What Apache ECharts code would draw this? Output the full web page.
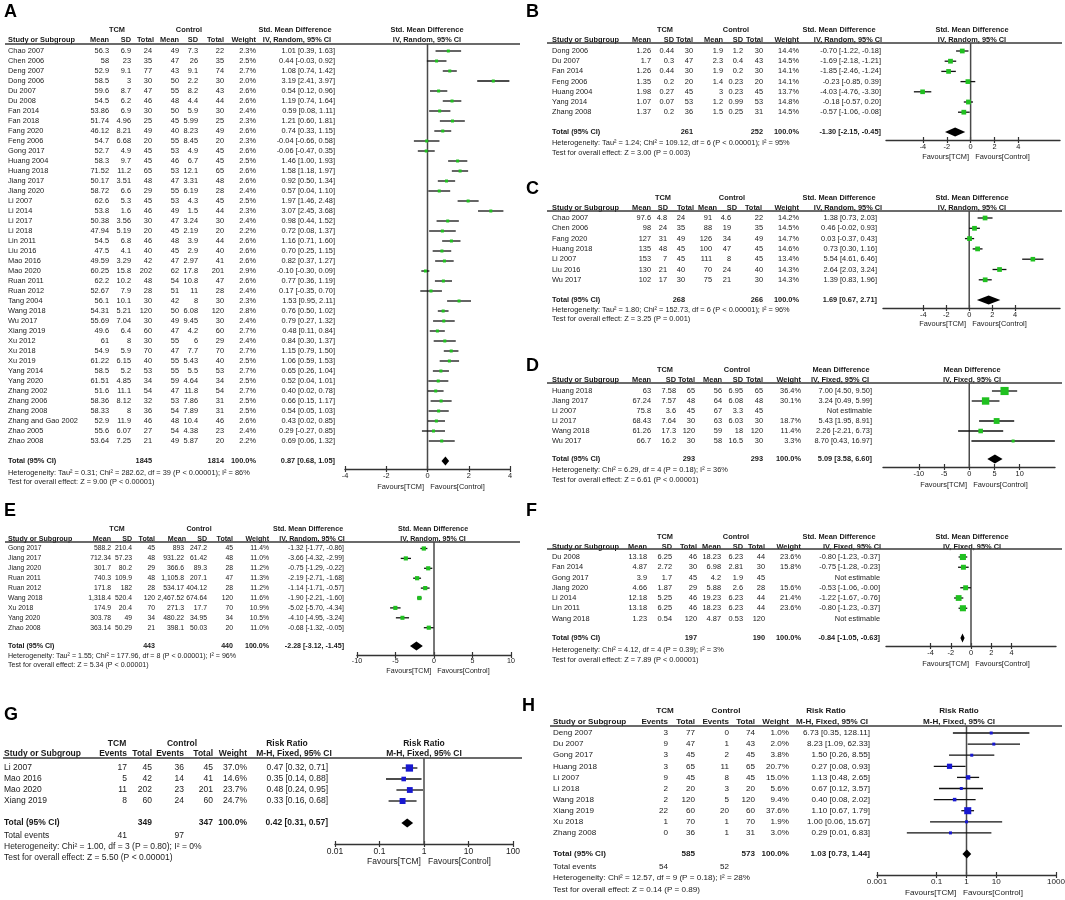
<!DOCTYPE html>
<html lang="en">
<head>
<meta charset="UTF-8">
<title>Forest plots A-H</title>
<style>html,body{margin:0;padding:0;background:#fff}</style>
</head>
<body>
<div id="chart" style="width:1065px;height:900px"></div>
<script src="https://cdn.jsdelivr.net/npm/echarts@6.0.0/dist/echarts.min.js"></script>
<script>
// ---------- A: Std. Mean Difference, IV, Random ----------
var A_study = ['Chao 2007','Chen 2006','Deng 2007','Dong 2006','Du 2007','Du 2008','Fan 2014','Fan 2018','Fang 2020','Feng 2006',
  'Gong 2017','Huang 2004','Huang 2018','Jiang 2017','Jiang 2020','Li 2007','Li 2014','Li 2017','Li 2018','Lin 2011',
  'Liu 2016','Mao 2016','Mao 2020','Ruan 2011','Ruan 2012','Tang 2004','Wang 2018','Wu 2017','Xiang 2019','Xu 2012',
  'Xu 2018','Xu 2019','Yang 2014','Yang 2020','Zhang 2002','Zhang 2006','Zhang 2008','Zhang and Gao 2002','Zhao 2005','Zhao 2008'];
var A_tcm = [[56.3,6.9,24],[58,23,35],[52.9,9.1,77],[58.5,3,30],[59.6,8.7,47],[54.5,6.2,46],[53.86,6.9,30],[51.74,4.96,25],[46.12,8.21,49],[54.7,6.68,20],
  [52.7,4.9,45],[58.3,9.7,45],[71.52,11.2,65],[50.17,3.51,48],[58.72,6.6,29],[62.6,5.3,45],[53.8,1.6,46],[50.38,3.56,30],[47.94,5.19,20],[54.5,6.8,46],
  [47.5,4.1,40],[49.59,3.29,42],[60.25,15.8,202],[62.2,10.2,48],[52.67,7.9,28],[56.1,10.1,30],[54.31,5.21,120],[55.69,7.04,30],[49.6,6.4,60],[61,8,30],
  [54.9,5.9,70],[61.22,6.15,40],[58.5,5.2,53],[61.51,4.85,34],[51.6,11.1,54],[58.36,8.12,32],[58.33,8,36],[52.9,11.9,46],[55.6,6.07,27],[53.64,7.25,21]];
var A_ctl = [[49,7.3,22],[47,26,35],[43,9.1,74],[50,2.2,30],[55,8.2,43],[48,4.4,44],[50,5.9,30],[45,5.99,25],[40,8.23,49],[55,8.45,20],
  [53,4.9,45],[46,6.7,45],[53,12.1,65],[47,3.31,48],[55,6.19,28],[53,4.3,45],[49,1.5,44],[47,3.24,30],[45,2.19,20],[48,3.9,44],
  [45,2.9,40],[47,2.97,41],[62,17.8,201],[54,10.8,47],[51,11,28],[42,8,30],[50,6.08,120],[49,9.45,30],[47,4.2,60],[55,6,29],
  [47,7.7,70],[55,5.43,40],[55,5.5,53],[59,4.64,34],[47,11.8,54],[53,7.86,31],[54,7.89,31],[48,10.4,46],[54,4.38,23],[49,5.87,20]];
var A_weight = [2.3,2.5,2.7,2.0,2.6,2.6,2.4,2.3,2.6,2.3,2.6,2.5,2.6,2.6,2.4,2.5,2.3,2.4,2.2,2.6,
  2.6,2.6,2.9,2.6,2.4,2.3,2.8,2.4,2.7,2.4,2.7,2.5,2.7,2.5,2.7,2.5,2.5,2.6,2.4,2.2];
var A_effect = [[1.01,0.39,1.63],[0.44,-0.03,0.92],[1.08,0.74,1.42],[3.19,2.41,3.97],[0.54,0.12,0.96],[1.19,0.74,1.64],[0.59,0.08,1.11],[1.21,0.60,1.81],[0.74,0.33,1.15],[-0.04,-0.66,0.58],
  [-0.06,-0.47,0.35],[1.46,1.00,1.93],[1.58,1.18,1.97],[0.92,0.50,1.34],[0.57,0.04,1.10],[1.97,1.46,2.48],[3.07,2.45,3.68],[0.98,0.44,1.52],[0.72,0.08,1.37],[1.16,0.71,1.60],
  [0.70,0.25,1.15],[0.82,0.37,1.27],[-0.10,-0.30,0.09],[0.77,0.36,1.19],[0.17,-0.35,0.70],[1.53,0.95,2.11],[0.76,0.50,1.02],[0.79,0.27,1.32],[0.48,0.11,0.84],[0.84,0.30,1.37],
  [1.15,0.79,1.50],[1.06,0.59,1.53],[0.65,0.26,1.04],[0.52,0.04,1.01],[0.40,0.02,0.78],[0.66,0.15,1.17],[0.54,0.05,1.03],[0.43,0.02,0.85],[0.29,-0.27,0.85],[0.69,0.06,1.32]];
var A_total = [1845, 1814, 0.87, 0.68, 1.05];
var A_het = 'Heterogeneity: Tau² = 0.31; Chi² = 282.62, df = 39 (P < 0.00001); I² = 86%';
var A_test = 'Test for overall effect: Z = 9.00 (P < 0.00001)';

// ---------- B ----------
var B_study = ['Dong 2006','Du 2007','Fan 2014','Feng 2006','Huang 2004','Yang 2014','Zhang 2008'];
var B_tcm = [[1.26,0.44,30],[1.7,0.3,47],[1.26,0.44,30],[1.35,0.2,20],[1.98,0.27,45],[1.07,0.07,53],[1.37,0.2,36]];
var B_ctl = [[1.9,1.2,30],[2.3,0.4,43],[1.9,0.2,30],[1.4,0.23,20],[3,0.23,45],[1.2,0.99,53],[1.5,0.25,31]];
var B_weight = [14.4,14.5,14.1,14.1,13.7,14.8,14.5];
var B_effect = [[-0.70,-1.22,-0.18],[-1.69,-2.18,-1.21],[-1.85,-2.46,-1.24],[-0.23,-0.85,0.39],[-4.03,-4.76,-3.30],[-0.18,-0.57,0.20],[-0.57,-1.06,-0.08]];
var B_total = [261, 252, -1.30, -2.15, -0.45];
var B_het = 'Heterogeneity: Tau² = 1.24; Chi² = 109.12, df = 6 (P < 0.00001); I² = 95%';
var B_test = 'Test for overall effect: Z = 3.00 (P = 0.003)';

// ---------- C ----------
var C_study = ['Chao 2007','Chen 2006','Fang 2020','Huang 2018','Li 2007','Liu 2016','Wu 2017'];
var C_tcm = [[97.6,4.8,24],[98,24,35],[127,31,49],[135,48,45],[153,7,45],[130,21,40],[102,17,30]];
var C_ctl = [[91,4.6,22],[88,19,35],[126,34,49],[100,47,45],[111,8,45],[70,24,40],[75,21,30]];
var C_weight = [14.2,14.5,14.7,14.6,13.4,14.3,14.3];
var C_effect = [[1.38,0.73,2.03],[0.46,-0.02,0.93],[0.03,-0.37,0.43],[0.73,0.30,1.16],[5.54,4.61,6.46],[2.64,2.03,3.24],[1.39,0.83,1.96]];
var C_total = [268, 266, 1.69, 0.67, 2.71];
var C_het = 'Heterogeneity: Tau² = 1.80; Chi² = 152.73, df = 6 (P < 0.00001); I² = 96%';
var C_test = 'Test for overall effect: Z = 3.25 (P = 0.001)';

// ---------- D: Mean Difference, IV, Fixed ----------
var D_study = ['Huang 2018','Jiang 2017','Li 2007','Li 2017','Wang 2018','Wu 2017'];
var D_tcm = [[63,7.58,65],[67.24,7.57,48],[75.8,3.6,45],[68.43,7.64,30],[61.26,17.3,120],[66.7,16.2,30]];
var D_ctl = [[56,6.95,65],[64,6.08,48],[67,3.3,45],[63,6.03,30],[59,18,120],[58,16.5,30]];
var D_weight = [36.4,30.1,null,18.7,11.4,3.3];
var D_effect = [[7.00,4.50,9.50],[3.24,0.49,5.99],null,[5.43,1.95,8.91],[2.26,-2.21,6.73],[8.70,0.43,16.97]];
var D_total = [293, 293, 5.09, 3.58, 6.60];
var D_het = 'Heterogeneity: Chi² = 6.29, df = 4 (P = 0.18); I² = 36%';
var D_test = 'Test for overall effect: Z = 6.61 (P < 0.00001)';

// ---------- E ----------
var E_study = ['Gong 2017','Jiang 2017','Jiang 2020','Ruan 2011','Ruan 2012','Wang 2018','Xu 2018','Yang 2020','Zhao 2008'];
var E_tcm = [[588.2,210.4,45],[712.34,57.23,48],[301.7,80.2,29],[740.3,109.9,48],[171.8,182,28],[1318.4,520.4,120],[174.9,20.4,70],[303.78,49,34],[363.14,50.29,21]];
var E_ctl = [[893,247.2,45],[931.22,61.42,48],[366.6,89.3,28],[1105.8,207.1,47],[534.17,404.12,28],[2467.52,674.64,120],[271.3,17.7,70],[480.22,34.95,34],[398.1,50.03,20]];
var E_weight = [11.4,11.0,11.2,11.3,11.2,11.6,10.9,10.5,11.0];
var E_effect = [[-1.32,-1.77,-0.86],[-3.66,-4.32,-2.99],[-0.75,-1.29,-0.22],[-2.19,-2.71,-1.68],[-1.14,-1.71,-0.57],[-1.90,-2.21,-1.60],[-5.02,-5.70,-4.34],[-4.10,-4.95,-3.24],[-0.68,-1.32,-0.05]];
var E_total = [443, 440, -2.28, -3.12, -1.45];
var E_het = 'Heterogeneity: Tau² = 1.55; Chi² = 177.96, df = 8 (P < 0.00001); I² = 96%';
var E_test = 'Test for overall effect: Z = 5.34 (P < 0.00001)';

// ---------- F: Std. Mean Difference, IV, Fixed ----------
var F_study = ['Du 2008','Fan 2014','Gong 2017','Jiang 2020','Li 2014','Lin 2011','Wang 2018'];
var F_tcm = [[13.18,6.25,46],[4.87,2.72,30],[3.9,1.7,45],[4.66,1.87,29],[12.18,5.25,46],[13.18,6.25,46],[1.23,0.54,120]];
var F_ctl = [[18.23,6.23,44],[6.98,2.81,30],[4.2,1.9,45],[5.88,2.6,28],[19.23,6.23,44],[18.23,6.23,44],[4.87,0.53,120]];
var F_weight = [23.6,15.8,null,15.6,21.4,23.6,null];
var F_effect = [[-0.80,-1.23,-0.37],[-0.75,-1.28,-0.23],null,[-0.53,-1.06,-0.003],[-1.22,-1.67,-0.76],[-0.80,-1.23,-0.37],null];
var F_total = [197, 190, -0.84, -1.05, -0.63];
var F_het = 'Heterogeneity: Chi² = 4.12, df = 4 (P = 0.39); I² = 3%';
var F_test = 'Test for overall effect: Z = 7.89 (P < 0.00001)';

// ---------- G: Risk Ratio, M-H, Fixed ----------
var G_study = ['Li 2007','Mao 2016','Mao 2020','Xiang 2019'];
var G_tcm = [[17,45],[5,42],[11,202],[8,60]];
var G_ctl = [[36,45],[14,41],[23,201],[24,60]];
var G_weight = [37.0,14.6,23.7,24.7];
var G_effect = [[0.47,0.32,0.71],[0.35,0.14,0.88],[0.48,0.24,0.95],[0.33,0.16,0.68]];
var G_total = [349, 347, 0.42, 0.31, 0.57];
var G_events = [41, 97];
var G_het = 'Heterogeneity: Chi² = 1.00, df = 3 (P = 0.80); I² = 0%';
var G_test = 'Test for overall effect: Z = 5.50 (P < 0.00001)';

// ---------- H ----------
var H_study = ['Deng 2007','Du 2007','Gong 2017','Huang 2018','Li 2007','Li 2018','Wang 2018','Xiang 2019','Xu 2018','Zhang 2008'];
var H_tcm = [[3,77],[9,47],[3,45],[3,65],[9,45],[2,20],[2,120],[22,60],[1,70],[0,36]];
var H_ctl = [[0,74],[1,43],[2,45],[11,65],[8,45],[3,20],[5,120],[20,60],[1,70],[1,31]];
var H_weight = [1.0,2.0,3.8,20.7,15.0,5.6,9.4,37.6,1.9,3.0];
var H_effect = [[6.73,0.35,128.11],[8.23,1.09,62.33],[1.50,0.26,8.55],[0.27,0.08,0.93],[1.13,0.48,2.65],[0.67,0.12,3.57],[0.40,0.08,2.02],[1.10,0.67,1.79],[1.00,0.06,15.67],[0.29,0.01,6.83]];
var H_total = [585, 573, 1.03, 0.73, 1.44];
var H_events = [54, 52];
var H_het = 'Heterogeneity: Chi² = 12.57, df = 9 (P = 0.18); I² = 28%';
var H_test = 'Test for overall effect: Z = 0.14 (P = 0.89)';

var smdTicks = [-4, -2, 0, 2, 4];
var mdTicks = [-10, -5, 0, 5, 10];
var gTicks = [0.01, 0.1, 1, 10, 100];
var hTicks = [0.001, 0.1, 1, 10, 1000];

var FONT = '"Liberation Sans", Arial, sans-serif';
var GREEN = '#20c020', BLUE = '#1818d0';
var CONT_HEAD = ['Mean','SD','Total','Mean','SD','Total','Weight'];
var DICH_HEAD = ['Events','Total','Events','Total','Weight'];

// layout of each panel (pixel positions only)
var panels = [
  {letter:['A',4,3], kind:'cont', fs:7.4, sqK:1.25, color:GREEN, effName:'Std. Mean Difference', method:'IV, Random, 95% CI',
   study:A_study, g1:A_tcm, g2:A_ctl, weight:A_weight, effect:A_effect, total:A_total, het:A_het, test:A_test,
   nameX:8, cols:[109,131,152,179,198,224,256], hcols:[109,131,154,179,198,224,256], ciX:335, ciHeadX:297, h1x:[117,189,295], line:[5,520],
   y:{h1:30, h2:40, line:44, row0:51, rowH:10, total:461, het:473, test:482, fav:487},
   plot:{px0:345, px1:510, min:-4, max:4, ticks:smdTicks, zero:0, axisY:469, cx:427, favX:431}},
  {letter:['B',526,3], kind:'cont', fs:7.4, sqK:1.25, color:GREEN, effName:'Std. Mean Difference', method:'IV, Random, 95% CI',
   study:B_study, g1:B_tcm, g2:B_ctl, weight:B_weight, effect:B_effect, total:B_total, het:B_het, test:B_test,
   nameX:552, cols:[651,674,693,723,743,763,799], ciX:881, ciHeadX:848, h1x:[665,736,839], line:[547,1062],
   y:{h1:30, h2:40, line:43, row0:51, rowH:10.2, total:132, het:143, test:153, fav:157},
   plot:{px0:886, px1:1060, min:-7.1, max:7.5, ticks:smdTicks, zero:0, axisY:140, cx:972, favX:976}},
  {letter:['C',526,180], kind:'cont', fs:7.4, sqK:1.25, color:GREEN, effName:'Std. Mean Difference', method:'IV, Random, 95% CI',
   study:C_study, g1:C_tcm, g2:C_ctl, weight:C_weight, effect:C_effect, total:C_total, het:C_het, test:C_test,
   nameX:552, cols:[651,667,685,712,731,763,799], hcols:[651,668,694,717,737,762,799], ciX:877, ciHeadX:848, h1x:[663,732,839], line:[547,1062],
   y:{h1:198, h2:208, line:211, row0:218, rowH:10.3, total:300, het:310, test:319, fav:324},
   plot:{px0:883, px1:1060, min:-7.5, max:7.9, ticks:smdTicks, zero:0, axisY:308, cx:972, favX:973}},
  {letter:['D',526,357], kind:'cont', fs:7.4, sqK:1.35, color:GREEN, effName:'Mean Difference', method:'IV, Fixed, 95% CI',
   study:D_study, g1:D_tcm, g2:D_ctl, weight:D_weight, effect:D_effect, total:D_total, het:D_het, test:D_test,
   nameX:552, cols:[651,676,695,722,743,763,801], ciX:872, ciHeadX:840, h1x:[665,737,841], line:[547,1062],
   y:{h1:370, h2:380, line:383, row0:391, rowH:10, total:459, het:470, test:480, fav:485},
   plot:{px0:883, px1:1055, min:-17.1, max:17, ticks:mdTicks, zero:0, axisY:467, cx:972, favX:974}},
  {letter:['E',4,502], kind:'cont', fs:7.1, rfs:6.8, sqK:1.25, color:GREEN, effName:'Std. Mean Difference', method:'IV, Random, 95% CI',
   study:E_study, g1:E_tcm, g2:E_ctl, weight:E_weight, effect:E_effect, total:E_total, het:E_het, test:E_test,
   nameX:8, cols:[111,132,155,184,207,233,269], hcols:[111,132,155,186,207,233,269], ciX:344, ciHeadX:312, h1x:[117,199,308], line:[5,520],
   y:{h1:529, h2:539, line:542, row0:548.5, rowH:9.9, total:646, het:656, test:665, fav:671},
   plot:{px0:357, px1:511, min:-10, max:10, ticks:mdTicks, zero:0, axisY:655, cx:433, favX:438}},
  {letter:['F',526,502], kind:'cont', fs:7.4, sqK:1.25, color:GREEN, effName:'Std. Mean Difference', method:'IV, Fixed, 95% CI',
   study:F_study, g1:F_tcm, g2:F_ctl, weight:F_weight, effect:F_effect, total:F_total, het:F_het, test:F_test,
   nameX:552, cols:[647,672,697,721,743,765,801], ciX:880, ciHeadX:852, h1x:[665,736,839], line:[547,1062],
   y:{h1:537, h2:547, line:549, row0:557, rowH:10.25, total:638, het:650, test:660, fav:664},
   plot:{px0:886, px1:1056, min:-8.4, max:8.4, ticks:smdTicks, zero:0, axisY:646, cx:972, favX:976}},
  {letter:['G',4,706], kind:'dich', fs:8.5, sqK:1.2, color:BLUE, effName:'Risk Ratio', method:'M-H, Fixed, 95% CI',
   study:G_study, g1:G_tcm, g2:G_ctl, weight:G_weight, effect:G_effect, total:G_total, events:G_events, het:G_het, test:G_test,
   nameX:4, cols:[127,152,184,213,247], ciX:328, ciHeadX:294, h1x:[117,182,287], line:[3,522],
   y:{h1:744, h2:754, line:758, row0:768, rowH:11, total:823, events:836, het:847, test:858, fav:862},
   plot:{px0:335, px1:513, min:0.01, max:100, log:true, ticks:gTicks, zero:1, axisY:844, cx:424, favX:429}},
  {letter:['H',522,697], kind:'dich', fs:8.1, sqK:1.15, color:BLUE, effName:'Risk Ratio', method:'M-H, Fixed, 95% CI',
   study:H_study, g1:H_tcm, g2:H_ctl, weight:H_weight, effect:H_effect, total:H_total, events:H_events, het:H_het, test:H_test,
   nameX:553, cols:[668,695,729,755,789], ciX:870, ciHeadX:832, h1x:[665,726,826], line:[550,1062],
   y:{h1:711, h2:722, line:726, row0:733, rowH:11.1, total:854, events:867, het:878, test:890, fav:893},
   plot:{px0:877, px1:1056, min:0.001, max:1000, log:true, ticks:hTicks, zero:1, axisY:875, cx:959, favX:964}}
];

var grids = [], xAxes = [], yAxes = [], series = [], graphics = [];

function fmt(v) { return v.toLocaleString('en-US', {maximumFractionDigits: 2}); }
function effText(e) { return e[0].toFixed(2) + ' [' + e[1].toFixed(2) + ', ' + e[2].toFixed(2) + ']'; }
function txt(x, y, s, size, align, bold) {
  graphics.push({type: 'text', x: x, y: y, silent: true,
    style: {text: s, font: (bold ? 'bold ' : '') + size + 'px ' + FONT, fill: '#1a1a1a',
      textAlign: align || 'left', textVerticalAlign: 'middle'}});
}
function hline(x1, x2, y, w) {
  graphics.push({type: 'line', silent: true, shape: {x1: x1, y1: y, x2: x2, y2: y},
    style: {stroke: '#3a3a3a', lineWidth: w || 1.4}});
}

function rowCells(p, i) {
  var c = [[p.study[i], p.nameX, 'left']];
  if (p.kind === 'cont') {
    var a = p.g1[i], b = p.g2[i];
    c.push([fmt(a[0]), p.cols[0], 'right'], [fmt(a[1]), p.cols[1], 'right'], [String(a[2]), p.cols[2], 'right'],
           [fmt(b[0]), p.cols[3], 'right'], [fmt(b[1]), p.cols[4], 'right'], [String(b[2]), p.cols[5], 'right']);
  } else {
    c.push([String(p.g1[i][0]), p.cols[0], 'right'], [String(p.g1[i][1]), p.cols[1], 'right'],
           [String(p.g2[i][0]), p.cols[2], 'right'], [String(p.g2[i][1]), p.cols[3], 'right']);
  }
  var w = p.weight[i];
  if (w != null) c.push([w.toFixed(1) + '%', p.cols[p.cols.length - 1], 'right']);
  c.push([p.effect[i] ? effText(p.effect[i]) : 'Not estimable', p.ciX, 'right']);
  return c;
}

function addPanel(p) {
  var k = grids.length, fs = p.fs, rfs = p.rfs || p.fs, pl = p.plot, Y = p.y;
  var hc = p.hcols || p.cols;
  graphics.push({type: 'text', x: p.letter[1], y: p.letter[2], silent: true,
    style: {text: p.letter[0], font: 'bold 18px Arial, "Liberation Sans", sans-serif', fill: '#000', textVerticalAlign: 'top'}});
  // headers
  txt(p.h1x[0], Y.h1, 'TCM', fs, 'center', true);
  txt(p.h1x[1], Y.h1, 'Control', fs, 'center', true);
  txt(p.h1x[2], Y.h1, p.effName, fs, 'center', true);
  txt(pl.cx, Y.h1, p.effName, fs, 'center', true);
  txt(p.nameX, Y.h2, 'Study or Subgroup', fs, 'left', true);
  var heads = p.kind === 'cont' ? CONT_HEAD : DICH_HEAD;
  heads.forEach(function (h, j) { txt(hc[j], Y.h2, h, fs, 'right', true); });
  txt(p.ciHeadX, Y.h2, p.method, fs, 'center', true);
  txt(pl.cx, Y.h2, p.method, fs, 'center', true);
  hline(p.line[0], p.line[1], Y.line, 1.5);
  // totals and footer
  var nIdx = p.kind === 'cont' ? [2, 5] : [1, 3];
  txt(p.nameX, Y.total, 'Total (95% CI)', fs, 'left', true);
  txt(p.cols[nIdx[0]], Y.total, String(p.total[0]), fs, 'right', true);
  txt(p.cols[nIdx[1]], Y.total, String(p.total[1]), fs, 'right', true);
  txt(p.cols[p.cols.length - 1], Y.total, '100.0%', fs, 'right', true);
  txt(p.ciX, Y.total, effText(p.total.slice(2)), fs, 'right', true);
  if (p.events) {
    txt(p.nameX, Y.events, 'Total events', fs);
    txt(p.cols[0], Y.events, String(p.events[0]), fs, 'right');
    txt(p.cols[2], Y.events, String(p.events[1]), fs, 'right');
  }
  txt(p.nameX, Y.het, p.het, fs);
  txt(p.nameX, Y.test, p.test, fs);
  txt(pl.favX, Y.fav, 'Favours[TCM]   Favours[Control]', fs, 'center');

  // plot area
  var yMin = (Y.line - Y.row0) / Y.rowH, yMax = (pl.axisY - Y.row0) / Y.rowH;
  grids.push({left: pl.px0, top: Y.line, width: pl.px1 - pl.px0, height: pl.axisY - Y.line, outerBoundsMode: 'none'});
  var base = {gridIndex: k, type: pl.log ? 'log' : 'value', logBase: 10, min: pl.min, max: pl.max,
    position: 'bottom', splitLine: {show: false}};
  xAxes.push(Object.assign({}, base, {
    axisLine: {show: true, onZero: false, lineStyle: {color: '#333', width: 1.4}},
    axisTick: {show: true, customValues: pl.ticks, length: 3, lineStyle: {color: '#333', width: 1.2}},
    axisLabel: {show: true, customValues: pl.ticks, fontSize: fs, fontFamily: FONT, color: '#1a1a1a', margin: 3,
      formatter: function (v) { return String(Number(Number(v).toPrecision(6))); }}
  }));
  xAxes.push(Object.assign({}, base, {
    axisLine: {show: false, onZero: false},
    axisTick: {show: true, inside: true, customValues: pl.ticks, length: 3, lineStyle: {color: '#333', width: 1.2}},
    axisLabel: {show: false}
  }));
  yAxes.push({gridIndex: k, type: 'value', inverse: true, min: yMin, max: yMax, show: false});

  var xi = 2 * k;
  // no-effect line
  series.push({type: 'custom', xAxisIndex: xi, yAxisIndex: k, silent: true, animation: false,
    data: [[pl.zero, yMin, yMax]], encode: {x: 0, y: [1, 2]},
    renderItem: function (params, api) {
      var a = api.coord([api.value(0), api.value(1)]), b = api.coord([api.value(0), api.value(2)]);
      return {type: 'line', shape: {x1: a[0], y1: a[1], x2: b[0], y2: b[1]}, style: {stroke: '#4a4a4a', lineWidth: 1.5}};
    }});
  // study CIs and weighted squares
  var ciData = [];
  p.study.forEach(function (s, i) {
    if (p.effect[i]) ciData.push([p.effect[i][0], p.effect[i][1], p.effect[i][2], i, p.weight[i]]);
  });
  series.push({type: 'custom', xAxisIndex: xi, yAxisIndex: k, silent: true, animation: false, z: 3,
    data: ciData, encode: {x: [0, 1, 2], y: 3},
    renderItem: function (params, api) {
      var row = api.value(3);
      var a = api.coord([api.value(1), row]), b = api.coord([api.value(2), row]), c = api.coord([api.value(0), row]);
      var s = Math.max(3, p.sqK * Math.sqrt(api.value(4)));
      return {type: 'group', children: [
        {type: 'line', shape: {x1: a[0], y1: a[1], x2: b[0], y2: b[1]}, style: {stroke: '#111', lineWidth: 1.3}},
        {type: 'rect', shape: {x: c[0] - s / 2, y: c[1] - s / 2, width: s, height: s}, style: {fill: p.color}}
      ]};
    }});
  // pooled diamond
  var tRow = (Y.total - Y.row0) / Y.rowH;
  series.push({type: 'custom', xAxisIndex: xi, yAxisIndex: k, silent: true, animation: false, z: 4,
    data: [[p.total[2], p.total[3], p.total[4], tRow]], encode: {x: [0, 1, 2], y: 3},
    renderItem: function (params, api) {
      var r = api.value(3), h = 4.5;
      var l = api.coord([api.value(1), r]), m = api.coord([api.value(0), r]), u = api.coord([api.value(2), r]);
      return {type: 'polygon', shape: {points: [[l[0], l[1]], [m[0], m[1] - h], [u[0], u[1]], [m[0], m[1] + h]]},
        style: {fill: '#000'}};
    }});
  // study rows of the table
  series.push({type: 'custom', xAxisIndex: xi, yAxisIndex: k, silent: true, animation: false,
    data: p.study.map(function (s, i) { return [pl.min, i]; }), encode: {x: 0, y: 1},
    renderItem: function (params, api) {
      var y = api.coord([pl.min, api.value(1)])[1];
      return {type: 'group', children: rowCells(p, params.dataIndex).map(function (c) {
        return {type: 'text', x: c[1], y: y, style: {text: c[0], font: rfs + 'px ' + FONT, fill: '#1a1a1a',
          textAlign: c[2], textVerticalAlign: 'middle'}};
      })};
    }});
}

panels.forEach(addPanel);

var chart = echarts.init(document.getElementById('chart'));
chart.setOption({
  backgroundColor: '#fff',
  animation: false,
  grid: grids,
  xAxis: xAxes,
  yAxis: yAxes,
  series: series,
  graphic: graphics
});
</script>
</body>
</html>
